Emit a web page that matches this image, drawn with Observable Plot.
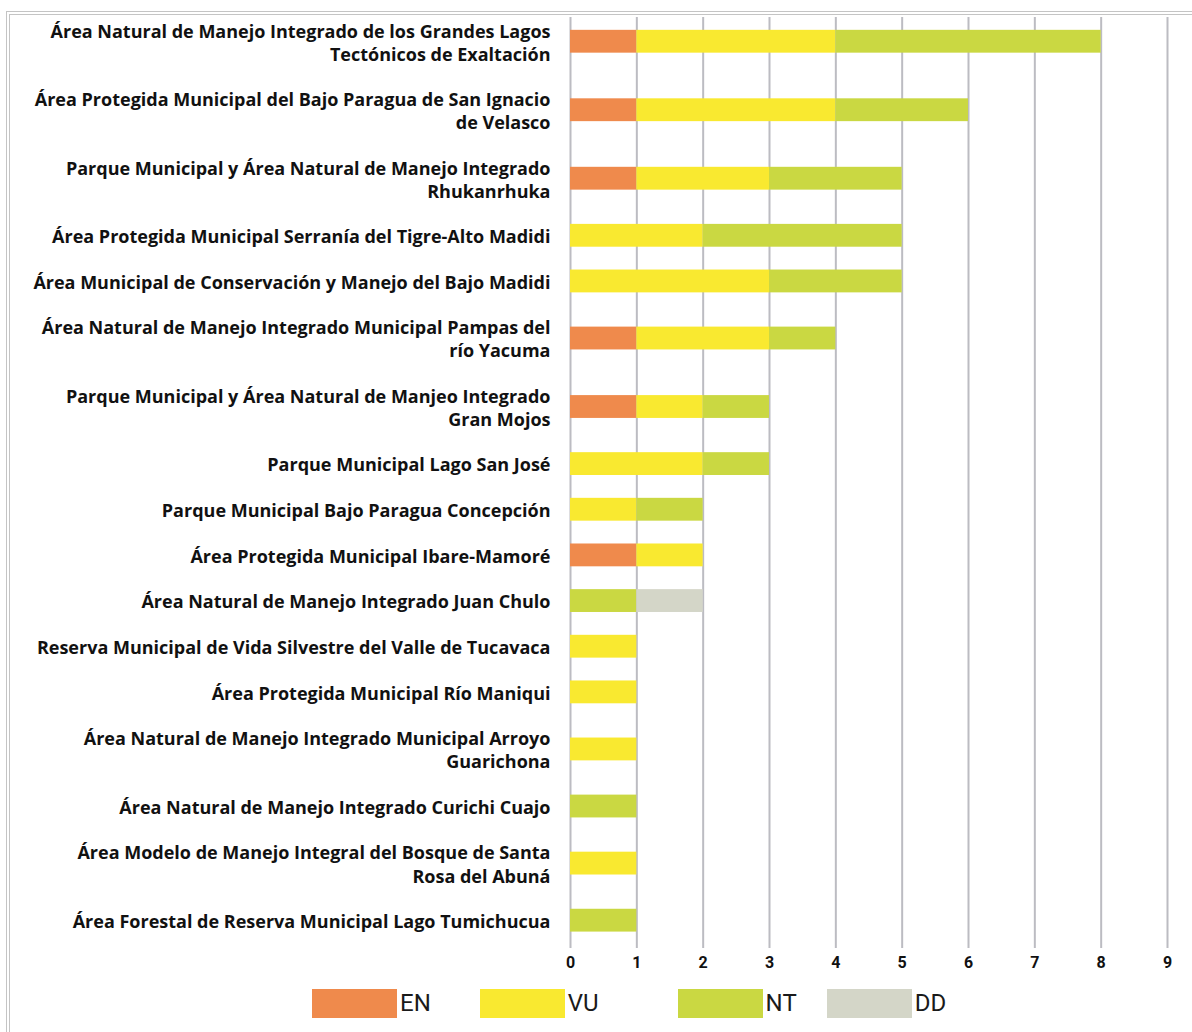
<!DOCTYPE html>
<html>
<head>
<meta charset="utf-8">
<script src="https://cdn.jsdelivr.net/npm/d3@7"></script>
<script src="https://cdn.jsdelivr.net/npm/@observablehq/plot@0.6"></script>
<style>
  html, body { margin: 0; padding: 0; background: #fff; width: 1192px; height: 1032px; overflow: hidden; }
  #frame { position: absolute; left: 6px; top: 11px; width: 1300px; height: 1200px; border: 4px double #c4c4c4; box-sizing: border-box; z-index: 2; pointer-events: none; }
  #chart { position: absolute; left: 0; top: 0; z-index: 1; }
  #legend { position: absolute; top: 989px; left: 312px; display: flex; align-items: center; font-family: Roboto, sans-serif; font-size: 24px; color: #1a1a1a; z-index: 3; }
  #legend .sw { width: 85px; height: 29px; display: inline-block; }
  #legend .item { display: flex; align-items: center; }
  #legend .lbl { margin-left: 3px; line-height: 29px; }
</style>
</head>
<body>
<div id="frame"></div>
<div id="chart"></div>
<div id="legend"></div>
<script>
const categories = [
  "Área Natural de Manejo Integrado de los Grandes Lagos\nTectónicos de Exaltación",
  "Área Protegida Municipal del Bajo Paragua de San Ignacio\nde Velasco",
  "Parque Municipal y Área Natural de Manejo Integrado\nRhukanrhuka",
  "Área Protegida Municipal Serranía del Tigre-Alto Madidi",
  "Área Municipal de Conservación y Manejo del Bajo Madidi",
  "Área Natural de Manejo Integrado Municipal Pampas del\nrío Yacuma",
  "Parque Municipal y Área Natural de Manjeo Integrado\nGran Mojos",
  "Parque Municipal Lago San José",
  "Parque Municipal Bajo Paragua Concepción",
  "Área Protegida Municipal Ibare-Mamoré",
  "Área Natural de Manejo Integrado Juan Chulo",
  "Reserva Municipal de Vida Silvestre del Valle de Tucavaca",
  "Área Protegida Municipal Río Maniqui",
  "Área Natural de Manejo Integrado Municipal Arroyo\nGuarichona",
  "Área Natural de Manejo Integrado Curichi Cuajo",
  "Área Modelo de Manejo Integral del Bosque de Santa\nRosa del Abuná",
  "Área Forestal de Reserva Municipal Lago Tumichucua"
];
const EN = [1, 1, 1, 0, 0, 1, 1, 0, 0, 1, 0, 0, 0, 0, 0, 0, 0];
const VU = [3, 3, 2, 2, 3, 2, 1, 2, 1, 1, 0, 1, 1, 1, 0, 1, 0];
const NT = [4, 2, 2, 3, 2, 1, 1, 1, 1, 0, 1, 0, 0, 0, 1, 0, 1];
const DD = [0, 0, 0, 0, 0, 0, 0, 0, 0, 0, 1, 0, 0, 0, 0, 0, 0];
const statuses = ["EN", "VU", "NT", "DD"];
const statusColors = ["#ef8a4c", "#f9e930", "#cad842", "#d4d6c8"];
const xTicks = [0, 1, 2, 3, 4, 5, 6, 7, 8, 9];

// Build rows: each row's band height depends on the number of label lines
const series = {EN, VU, NT, DD};
let cursor = 0;
const rows = categories.map((label, i) => {
  const h = label.split("\n").length > 1 ? 1.5 : 1;
  const pos = cursor + h / 2;
  cursor += h;
  return {label, pos, i};
});
const total = cursor;
const half = 0.25;

const segments = [];
rows.forEach(r => {
  let acc = 0;
  statuses.forEach(s => {
    const v = series[s][r.i];
    if (v > 0) {
      segments.push({status: s, x1: acc, x2: acc + v, y1: r.pos - half, y2: r.pos + half});
    }
    acc += v;
  });
});

const chart = Plot.plot({
  width: 1192,
  height: 985,
  marginLeft: 570,
  marginRight: 25,
  marginTop: 7,
  marginBottom: 42,
  style: {fontFamily: "Roboto, sans-serif", background: "transparent"},
  x: {domain: [0, 9]},
  y: {domain: [0, total], reverse: true, axis: null},
  color: {domain: statuses, range: statusColors},
  marks: [
    Plot.ruleX(xTicks, {x: d => d, stroke: "#bcbcc2", strokeWidth: 2, insetTop: 10, insetBottom: -5}),
    Plot.rectX(segments, {x1: "x1", x2: "x2", y1: "y1", y2: "y2", fill: "status"}),
    Plot.text(rows, {y: "pos", text: "label", frameAnchor: "left", textAnchor: "end", dx: -20,
      lineHeight: 1.28, fontWeight: 700, fontSize: 18, fill: "#111", fontFamily: "'Open Sans', sans-serif"}),
    Plot.axisX({ticks: xTicks, tickSize: 0, tickPadding: 13, fontWeight: 700, fontSize: 16, fill: "#111", label: null})
  ]
});
document.getElementById("chart").appendChild(chart);

const legendGaps = [49, 79, 30, 0];
const legend = document.getElementById("legend");
statuses.forEach((s, i) => {
  const item = document.createElement("div");
  item.className = "item";
  item.style.marginRight = legendGaps[i] + "px";
  item.innerHTML = `<span class="sw" style="background:${statusColors[i]}"></span><span class="lbl">${s}</span>`;
  legend.appendChild(item);
});
</script>
</body>
</html>
